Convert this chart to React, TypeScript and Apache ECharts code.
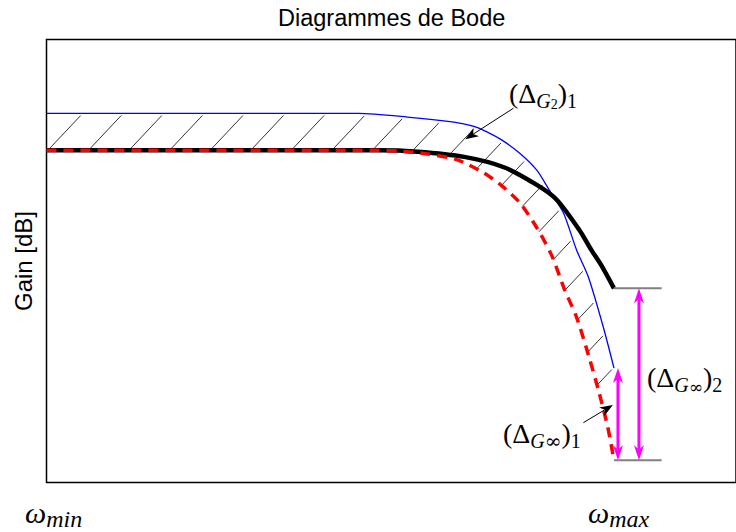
import React, { useEffect, useRef } from "react";
import * as echarts from "echarts";

// Frequency in normalised log units: 0 = ω_min, 100 = ω_max. Gain in dB.
const blueX = [0, 55, 63.6, 71.8, 75.0, 77.6, 80.2, 83.4, 86.4, 88.6, 91.1, 93.4, 95.5, 98.1, 100];
const blueGain = [0, 0, -0.5, -1.2, -1.7, -2.5, -3.6, -5.4, -7.7, -10.4, -13.5, -18.5, -22.2, -28.9, -34.5];

const blackX = [0, 58.4, 65.4, 73.6, 80.6, 86.4, 89.9, 93.9, 96.0, 97.7, 100];
const blackGain = [-5, -5, -5.2, -5.9, -7.3, -9.7, -11.7, -15.8, -18.5, -20.5, -23.7];

const redX = [0, 58.4, 61.9, 67.1, 72.4, 77.1, 80.2, 83.4, 86.4, 89.0, 91.3, 93.4, 95.6, 97.4, 98.9, 100];
const redGain = [-5, -5, -5.1, -5.5, -6.3, -8.1, -9.8, -12.1, -15.5, -19.2, -23.9, -27.6, -33.0, -37.9, -42.5, -47.0];

// annotation pointers (tail -> tip), in axis units
const noteArrowFrom = [[82.3, 0.7], [94.6, -41.9]];
const noteArrowTo = [[73.8, -3.5], [99.8, -39.5]];

// axis ranges and annotation placement
const X_MIN = 0;
const X_MAX = 121.5;
const Y_MIN = -50;
const Y_MAX = 10;
const SPAN_X1 = 100.7;
const SPAN_X2 = 104.4;
const REF_END = 108.4;

// hatch pattern: parallel lines  slope*x + y = c  (screen space)
const HATCH_SLOPE = 1.06;
const HATCH_STEP = 43;
const HATCH_TRIM = 3;
const CURVE_SMOOTH = 0.25;

const SANS = "'Liberation Sans', Arial, sans-serif";
const SERIF = "'Liberation Serif', 'DejaVu Serif', serif";

const zip = (xs: number[], ys: number[]) => xs.map((x, i) => [x, ys[i]]);
const last = (a: number[]) => a[a.length - 1];

type P = number[];

function crossing(poly: P[], c: number): P | null {
  const key = (p: P) => HATCH_SLOPE * p[0] + p[1];
  for (let i = 0; i < poly.length - 1; i++) {
    const k0 = key(poly[i]);
    const k1 = key(poly[i + 1]);
    if (k0 !== k1 && (k0 - c) * (k1 - c) <= 0) {
      const t = (c - k0) / (k1 - k0);
      return [
        poly[i][0] + (poly[i + 1][0] - poly[i][0]) * t,
        poly[i][1] + (poly[i + 1][1] - poly[i][1]) * t,
      ];
    }
  }
  return null;
}

function arrowHead(tip: P, from: P, len: number, width: number, color: string) {
  const dx = tip[0] - from[0];
  const dy = tip[1] - from[1];
  const d = Math.hypot(dx, dy) || 1;
  const ux = dx / d;
  const uy = dy / d;
  const nx = -uy;
  const ny = ux;
  const bx = tip[0] - ux * len;
  const by = tip[1] - uy * len;
  const notch = [tip[0] - ux * len * 0.72, tip[1] - uy * len * 0.72];
  return {
    notch,
    shape: {
      type: "polygon",
      shape: {
        points: [
          tip,
          [bx + (nx * width) / 2, by + (ny * width) / 2],
          notch,
          [bx - (nx * width) / 2, by - (ny * width) / 2],
        ],
      },
      style: { fill: color },
    },
  };
}

const tok = (size: number, drop: number, italic = false, family = SERIF) => ({
  fontFamily: family,
  fontStyle: italic ? "italic" : "normal",
  fontSize: size,
  height: size,
  padding: [drop, 0, 0, 0],
  verticalAlign: "top",
  fill: "#000",
});

const mathRich: any = {
  m: tok(28, 0),
  s: tok(20, 11.7),
  si: tok(20, 11.7, true),
  inf: tok(20, 11.7, false, "'DejaVu Serif', serif"),
  infs: tok(17, 15, false, "'DejaVu Serif', serif"),
  ss: tok(14, 17.7),
  w: tok(30, 0, true),
  ws: tok(24, 10, true),
};

const mathText = (text: string, x: number, y: number) => ({
  type: "text",
  x,
  y,
  silent: true,
  style: { text, rich: mathRich, align: "left", verticalAlign: "top", fill: "#000" },
});

export default function App() {
  const ref = useRef<HTMLDivElement>(null);

  useEffect(() => {
    if (!ref.current) return;
    const chart = echarts.init(ref.current, undefined, { renderer: "svg" });

    const option: any = {
      animation: false,
      backgroundColor: "#fff",
      title: {
        text: "Diagrammes de Bode",
        left: 278,
        top: 6,
        padding: 0,
        textStyle: { fontFamily: SANS, fontSize: 23.5, fontWeight: "normal", color: "#000" },
      },
      grid: {
        left: 46.5,
        right: -5,
        top: 39.5,
        bottom: 49.5,
        show: true,
        borderColor: "#000",
        borderWidth: 1.5,
        backgroundColor: "transparent",
      },
      xAxis: {
        type: "value",
        min: X_MIN,
        max: X_MAX,
        axisLine: { show: false },
        axisTick: { show: false },
        axisLabel: { show: false },
        splitLine: { show: false },
      },
      yAxis: {
        type: "value",
        min: Y_MIN,
        max: Y_MAX,
        name: "Gain [dB]",
        nameLocation: "middle",
        nameGap: 11,
        nameTextStyle: { fontFamily: SANS, fontSize: 24, color: "#000" },
        axisLine: { show: false },
        axisTick: { show: false },
        axisLabel: { show: false },
        splitLine: { show: false },
      },
      graphic: [
        mathText("{m|(Δ}{si|G}{ss|2}{m|)}{s|1}", 509, 79.5),
        mathText("{m|(Δ}{si|G}{infs|∞}{m|)}{s|2}", 647, 363.5),
        mathText("{m|(Δ}{si|G}{inf|∞}{m|)}{s|1}", 503, 419.5),
        mathText("{w|ω}{ws|min}", 25, 497),
        mathText("{w|ω}{ws|max}", 588, 497),
      ],
      series: [
        {
          name: "G2",
          type: "line",
          data: zip(blueX, blueGain),
          showSymbol: false,
          smooth: CURVE_SMOOTH,
          lineStyle: { color: "#0000ff", width: 1.3 },
          z: 2,
        },
        {
          name: "hatch",
          type: "custom",
          data: [[0, 0]],
          silent: true,
          z: 2,
          renderItem: (_params: any, api: any) => {
            const red = zip(redX, redGain).map((p) => api.coord(p));
            const blue = zip(blueX, blueGain).map((p) => api.coord(p));
            const children: any[] = [];
            const start = HATCH_SLOPE * red[0][0] + red[0][1] + 1.5;
            for (let c = start; c < start + 5000; c += HATCH_STEP) {
              const a = crossing(red, c);
              const b = crossing(blue, c);
              if (!a || !b) break;
              const dx = b[0] - a[0];
              const dy = b[1] - a[1];
              const len = Math.hypot(dx, dy);
              if (len <= HATCH_TRIM + 1) continue;
              const t = (len - HATCH_TRIM) / len;
              children.push({
                type: "line",
                shape: { x1: a[0], y1: a[1], x2: a[0] + dx * t, y2: a[1] + dy * t },
                style: { stroke: "#000", lineWidth: 0.8 },
              });
            }
            return { type: "group", children };
          },
        },
        {
          name: "G",
          type: "line",
          data: zip(blackX, blackGain),
          showSymbol: false,
          smooth: CURVE_SMOOTH,
          lineStyle: { color: "#000", width: 4.5 },
          z: 3,
        },
        {
          name: "G1",
          type: "line",
          data: zip(redX, redGain),
          showSymbol: false,
          smooth: CURVE_SMOOTH,
          lineStyle: { color: "#ff0000", width: 3.5, type: [10, 7] },
          z: 4,
        },
        {
          name: "annotations",
          type: "custom",
          data: [[0, 0]],
          silent: true,
          z: 5,
          renderItem: (_params: any, api: any) => {
            const children: any[] = [];
            const gray = "#808080";
            const magenta = "#ff00ff";

            // reference levels at ω_max
            [last(blackGain), last(redGain)].forEach((g) => {
              const p0 = api.coord([last(redX), g]);
              const p1 = api.coord([REF_END, g]);
              children.push({
                type: "line",
                shape: { x1: p0[0], y1: p0[1], x2: p1[0], y2: p1[1] },
                style: { stroke: gray, lineWidth: 2 },
              });
            });

            // double arrows: gain gaps at ω_max
            const spans = [
              [SPAN_X1, last(blueGain), last(redGain)],
              [SPAN_X2, last(blackGain), last(redGain)],
            ];
            spans.forEach(([x, g0, g1]) => {
              const top = api.coord([x, g0]);
              const bot = api.coord([x, g1]);
              const hTop = arrowHead(top, bot, 15, 10, magenta);
              const hBot = arrowHead(bot, top, 15, 10, magenta);
              children.push({
                type: "line",
                shape: { x1: hTop.notch[0], y1: hTop.notch[1], x2: hBot.notch[0], y2: hBot.notch[1] },
                style: { stroke: magenta, lineWidth: 3 },
              });
              children.push(hTop.shape, hBot.shape);
            });

            // label pointers
            noteArrowFrom.forEach((from, i) => {
              const a = api.coord(from);
              const b = api.coord(noteArrowTo[i]);
              const h = arrowHead(b, a, 13, 10, "#000");
              children.push({
                type: "line",
                shape: { x1: a[0], y1: a[1], x2: h.notch[0], y2: h.notch[1] },
                style: { stroke: "#000", lineWidth: 1 },
              });
              children.push(h.shape);
            });

            return { type: "group", children };
          },
        },
      ],
    };

    chart.setOption(option);
    return () => chart.dispose();
  }, []);

  return (
    <div
      ref={ref}
      style={{ position: "absolute", left: 0, top: 0, width: 736, height: 532, background: "#fff" }}
    />
  );
}
